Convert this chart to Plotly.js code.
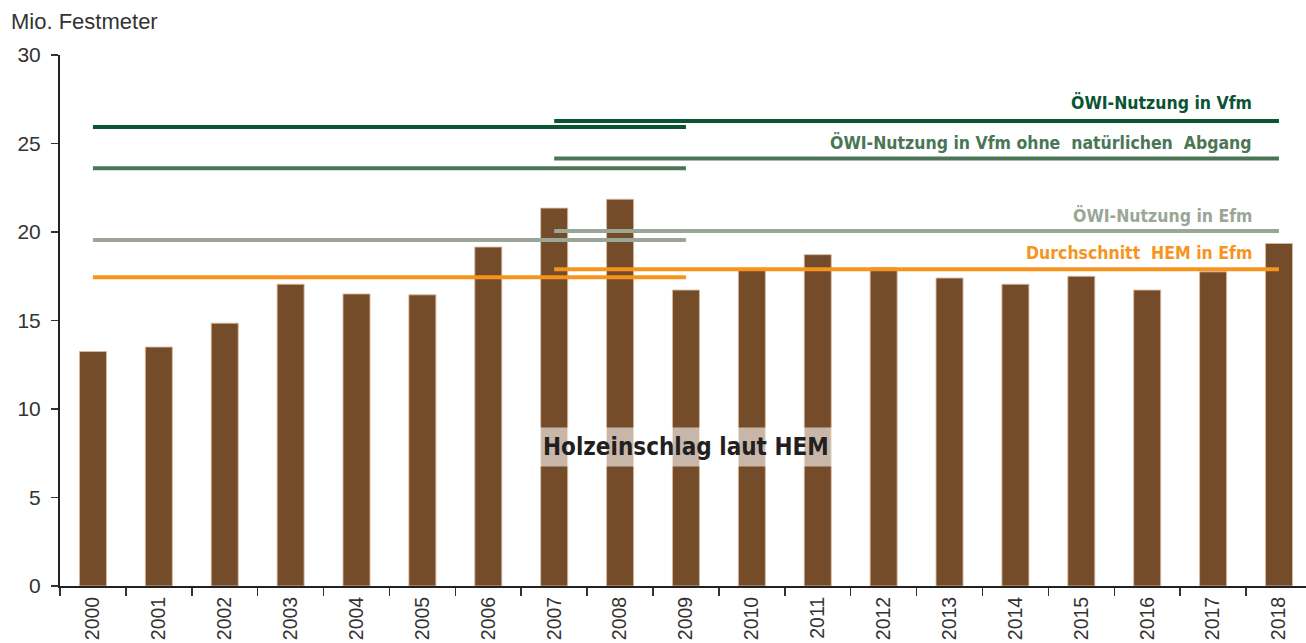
<!DOCTYPE html>
<html><head><meta charset="utf-8">
<script src="https://cdn.plot.ly/plotly-3.0.1.min.js"></script>
<style>body{margin:0;background:#fff}#c{width:1306px;height:643px}</style>
</head><body><div id="c"></div>
<script>
const years = ['2000','2001','2002','2003','2004','2005','2006','2007','2008','2009','2010','2011','2012','2013','2014','2015','2016','2017','2018'];
const hem = [13.25,13.5,14.85,17.05,16.5,16.45,19.15,21.35,21.85,16.72,17.95,18.72,17.98,17.4,17.05,17.5,16.72,17.75,19.35];
const period1 = ['2000','2009'];
const period2 = ['2007','2018'];
const oewiVfm = [25.93,26.27];
const oewiVfmOhne = [23.6,24.15];
const oewiEfm = [19.55,20.05];
const avgHem = [17.45,17.9];
const lineLabels = ['ÖWI-Nutzung in Vfm','ÖWI-Nutzung in Vfm ohne  natürlichen  Abgang','ÖWI-Nutzung in Efm','Durchschnitt  HEM in Efm'];
const barLabel = 'Holzeinschlag laut HEM';

const colors = ['#0a5434','#4a7656','#9aa696','#f7941d'];
const series = [oewiVfm, oewiVfmOhne, oewiEfm, avgHem];
const labelY = [27.33, 25.03, 20.93, 18.8];

const traces = [{
  type:'bar', x: years, y: hem,
  marker:{color:'#754c29', line:{color:'rgba(215,185,160,0.9)', width:1}},
  hoverinfo:'skip'
}];
series.forEach((s,i)=>{
  traces.push({type:'scatter', mode:'lines', x: period1, y:[s[0],s[0]], line:{color:colors[i], width:4}, hoverinfo:'skip'});
  traces.push({type:'scatter', mode:'lines', x: period2, y:[s[1],s[1]], line:{color:colors[i], width:4}, hoverinfo:'skip'});
});

const condensed = '"DejaVu Sans Condensed", "Liberation Sans Narrow", Arial, sans-serif';
const plain = 'Liberation Sans, Arial, sans-serif';
const annotations = lineLabels.map((t,i)=>({
  text:'<b>'+t+'</b>', x:17.5, y:labelY[i], xref:'x', yref:'y', xanchor:'right', yanchor:'middle',
  showarrow:false, xshift:8, font:{family:condensed, size:17.5, color:colors[i]}
}));
annotations.push({
  text:'<b>'+barLabel+'</b>', x:9, y:7.85, xref:'x', yref:'y', showarrow:false,
  xanchor:'center', yanchor:'middle',
  font:{family:condensed, size:24, color:'#231f20'},
  bgcolor:'rgba(255,255,255,0.6)', borderpad:5
});
annotations.push({
  text:'Mio. Festmeter', xref:'paper', yref:'paper', x:-0.041, y:1.064, xanchor:'left', yanchor:'middle',
  showarrow:false, font:{family:plain, size:22, color:'#333'}
});

const layout = {
  width:1306, height:643,
  margin:{l:60, r:0, t:55, b:57},
  paper_bgcolor:'#fff', plot_bgcolor:'#fff',
  showlegend:false,
  bargap:0.59,
  xaxis:{
    type:'category', range:[-0.5,18.41], tickson:'boundaries', ticks:'outside', ticklen:8, tickwidth:1.5, tickcolor:'#333',
    showline:true, linecolor:'#222', linewidth:2, showgrid:false, tickangle:-90, automargin:false,
    ticklabelstandoff:1,
    tickfont:{family:plain, size:19.5, color:'#333'}
  },
  yaxis:{
    range:[0,30], dtick:5, ticks:'outside', ticklen:7, tickwidth:1.5, tickcolor:'#333',
    showline:true, linecolor:'#222', linewidth:2, showgrid:false, zeroline:false, automargin:false,
    ticklabelstandoff:6,
    tickfont:{family:plain, size:21, color:'#333'}
  },
  annotations: annotations
};
Plotly.newPlot('c', traces, layout, {displayModeBar:false, staticPlot:true});
</script>
</body></html>
